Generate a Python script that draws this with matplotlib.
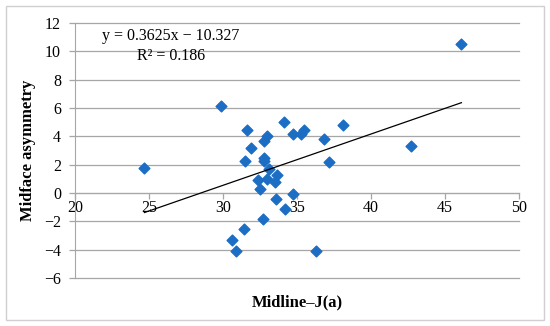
import matplotlib.pyplot as plt
import numpy as np
from matplotlib.patches import Rectangle

# values
midline_ja = [24.7, 29.9, 31.6, 31.9, 31.5, 33.0, 32.8, 34.1, 34.7, 35.3, 35.5,
              32.8, 32.8, 33.1, 32.35, 33.0, 33.65, 33.5, 32.5, 34.7, 33.6,
              34.2, 32.7, 31.4, 30.6, 30.85, 36.3, 38.1, 36.8, 37.15, 42.7, 46.1]
midface_asym = [1.8, 6.15, 4.45, 3.15, 2.25, 4.05, 3.65, 5.0, 4.15, 4.15, 4.45,
                2.5, 2.25, 1.7, 0.95, 1.0, 1.3, 0.8, 0.3, -0.05, -0.4,
                -1.1, -1.85, -2.55, -3.3, -4.1, -4.1, 4.8, 3.8, 2.2, 3.3, 10.5]

slope = 0.3625
intercept = -10.327
r_squared = 0.186

x_ticks = [20, 25, 30, 35, 40, 45, 50]
y_ticks = [-6, -4, -2, 0, 2, 4, 6, 8, 10, 12]

plt.rcParams["font.family"] = ["Liberation Serif", "DejaVu Serif"]

fig = plt.figure(figsize=(5.5, 3.26), dpi=100)
fig.patches.append(Rectangle((0.01, 0.018), 0.979, 0.965, transform=fig.transFigure,
                             fill=False, edgecolor="#d0d0d0", linewidth=1.0))
ax = fig.add_axes([0.136, 0.147, 0.808, 0.782])

ax.set_axisbelow(True)
ax.grid(axis="y", color="#a6a6a6", linewidth=0.9)
ax.scatter(midline_ja, midface_asym, marker="D", s=30, color="#1c6dc4", zorder=3)

xs = np.array([min(midline_ja), max(midline_ja)])
ax.plot(xs, slope * xs + intercept, color="black", linewidth=0.9, zorder=4)

ax.text(26.5, 11.1, f"y = {slope}x \u2212 {abs(intercept)}", ha="center", va="center", fontsize=11.5)
ax.text(26.5, 9.65, f"R\u00b2 = {r_squared}", ha="center", va="center", fontsize=11.5)

ax.set_xlim(20, 50)
ax.set_ylim(-6, 12)
ax.set_xticks(x_ticks)
ax.set_yticks(y_ticks)
ax.set_yticklabels([str(v).replace("-", "\u2212") for v in y_ticks])
for line in ax.get_ygridlines():
    line.set_clip_on(False)

ax.spines["bottom"].set_position(("data", 0))
ax.spines["bottom"].set_color("#a6a6a6")
ax.spines["left"].set_color("#a6a6a6")
ax.spines["top"].set_visible(False)
ax.spines["right"].set_visible(False)
ax.tick_params(axis="both", colors="#a6a6a6", labelcolor="black", labelsize=11.5, length=4, width=0.9)
ax.tick_params(axis="x", pad=1)
ax.tick_params(axis="y", pad=6)

ax.set_xlabel("Midline\u2013J(a)", fontsize=12, fontweight="bold", labelpad=0)
ax.xaxis.set_label_coords(0.5, -0.065)
ax.set_ylabel("Midface asymmetry", fontsize=12, fontweight="bold")
ax.yaxis.set_label_coords(-0.088, 0.5)

fig.savefig("out.png", dpi=100)
